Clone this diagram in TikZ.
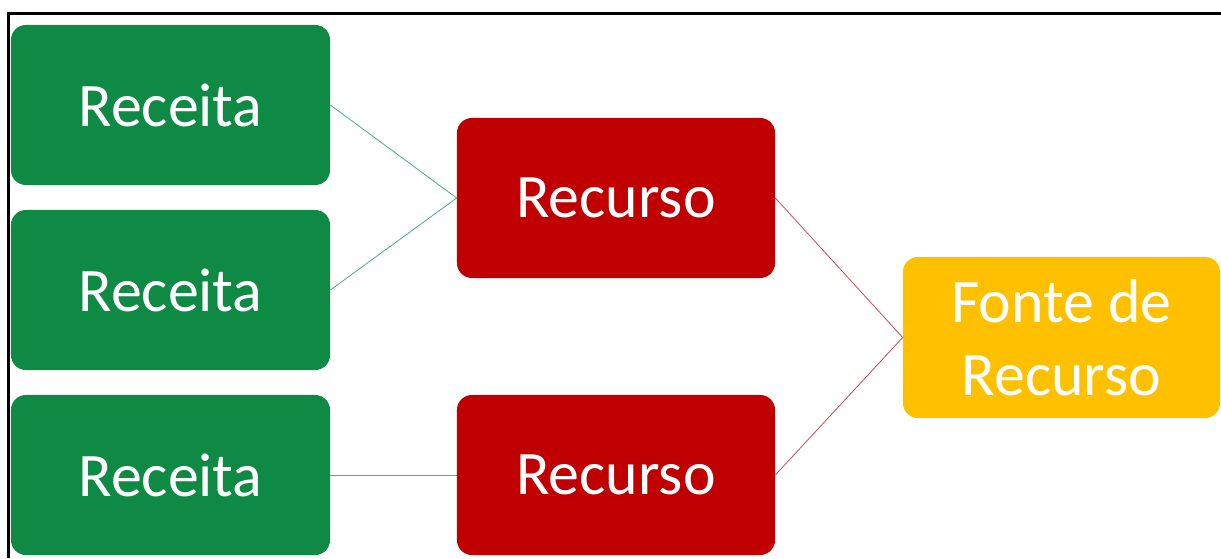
\documentclass[tikz,border=0pt]{standalone}
\usepackage{fontspec}
\setmainfont{Carlito}
\usepackage{tikz}
\definecolor{receitaGreen}{HTML}{0E8A45}
\definecolor{recursoRed}{HTML}{C00000}
\definecolor{fonteYellow}{HTML}{FFC000}
\definecolor{greenLink}{HTML}{4FAE86}
\definecolor{redLink}{HTML}{D0505A}
\tikzset{
  box/.style={rectangle, rounded corners=0.375cm, text=white, align=center,
    font=\fontsize{44}{52}\selectfont, inner sep=0pt},
  receitabox/.style={box, fill=receitaGreen, minimum width=7.975cm, minimum height=4cm},
  recursobox/.style={box, fill=recursoRed, minimum width=7.95cm, minimum height=4cm},
  fontebox/.style={box, fill=fonteYellow, minimum width=7.925cm, minimum height=4.025cm},
  greenline/.style={greenLink, line width=0.6pt},
  redline/.style={redLink, line width=0.6pt}
}
\begin{document}
\begin{tikzpicture}[x=0.025cm, y=-0.025cm]
    \useasboundingbox (0,0) rectangle (1221,558);
    % frame
    \draw [black, line width=2pt] (8.5,558) -- (8.5,13.5) -- (1221,13.5);

    % receitas
    \node [receitabox] (receita1) at (170.5,105) {Receita};
    \node [receitabox] (receita2) at (170.5,290) {Receita};
    \node [receitabox] (receita3) at (170.5,475) {Receita};

    % recursos
    \node [recursobox] (recurso1) at (616,198) {Recurso};
    \node [recursobox] (recurso2) at (616,475) {Recurso};

    % fonte
    \node [fontebox] (fonte) at (1061.5,337.5) {Fonte de\\Recurso};

    % for recurso 1
    \draw [greenline] (receita1.east) -- (recurso1.west);
    \draw [greenline] (receita2.east) -- (recurso1.west);

    % for recurso 2
    \draw [greenline] (receita3.east) -- (recurso2.west);

    % for fonte
    \draw [redline] (recurso1.east) -- (fonte.west);
    \draw [redline] (recurso2.east) -- (fonte.west);
\end{tikzpicture}
\end{document}
